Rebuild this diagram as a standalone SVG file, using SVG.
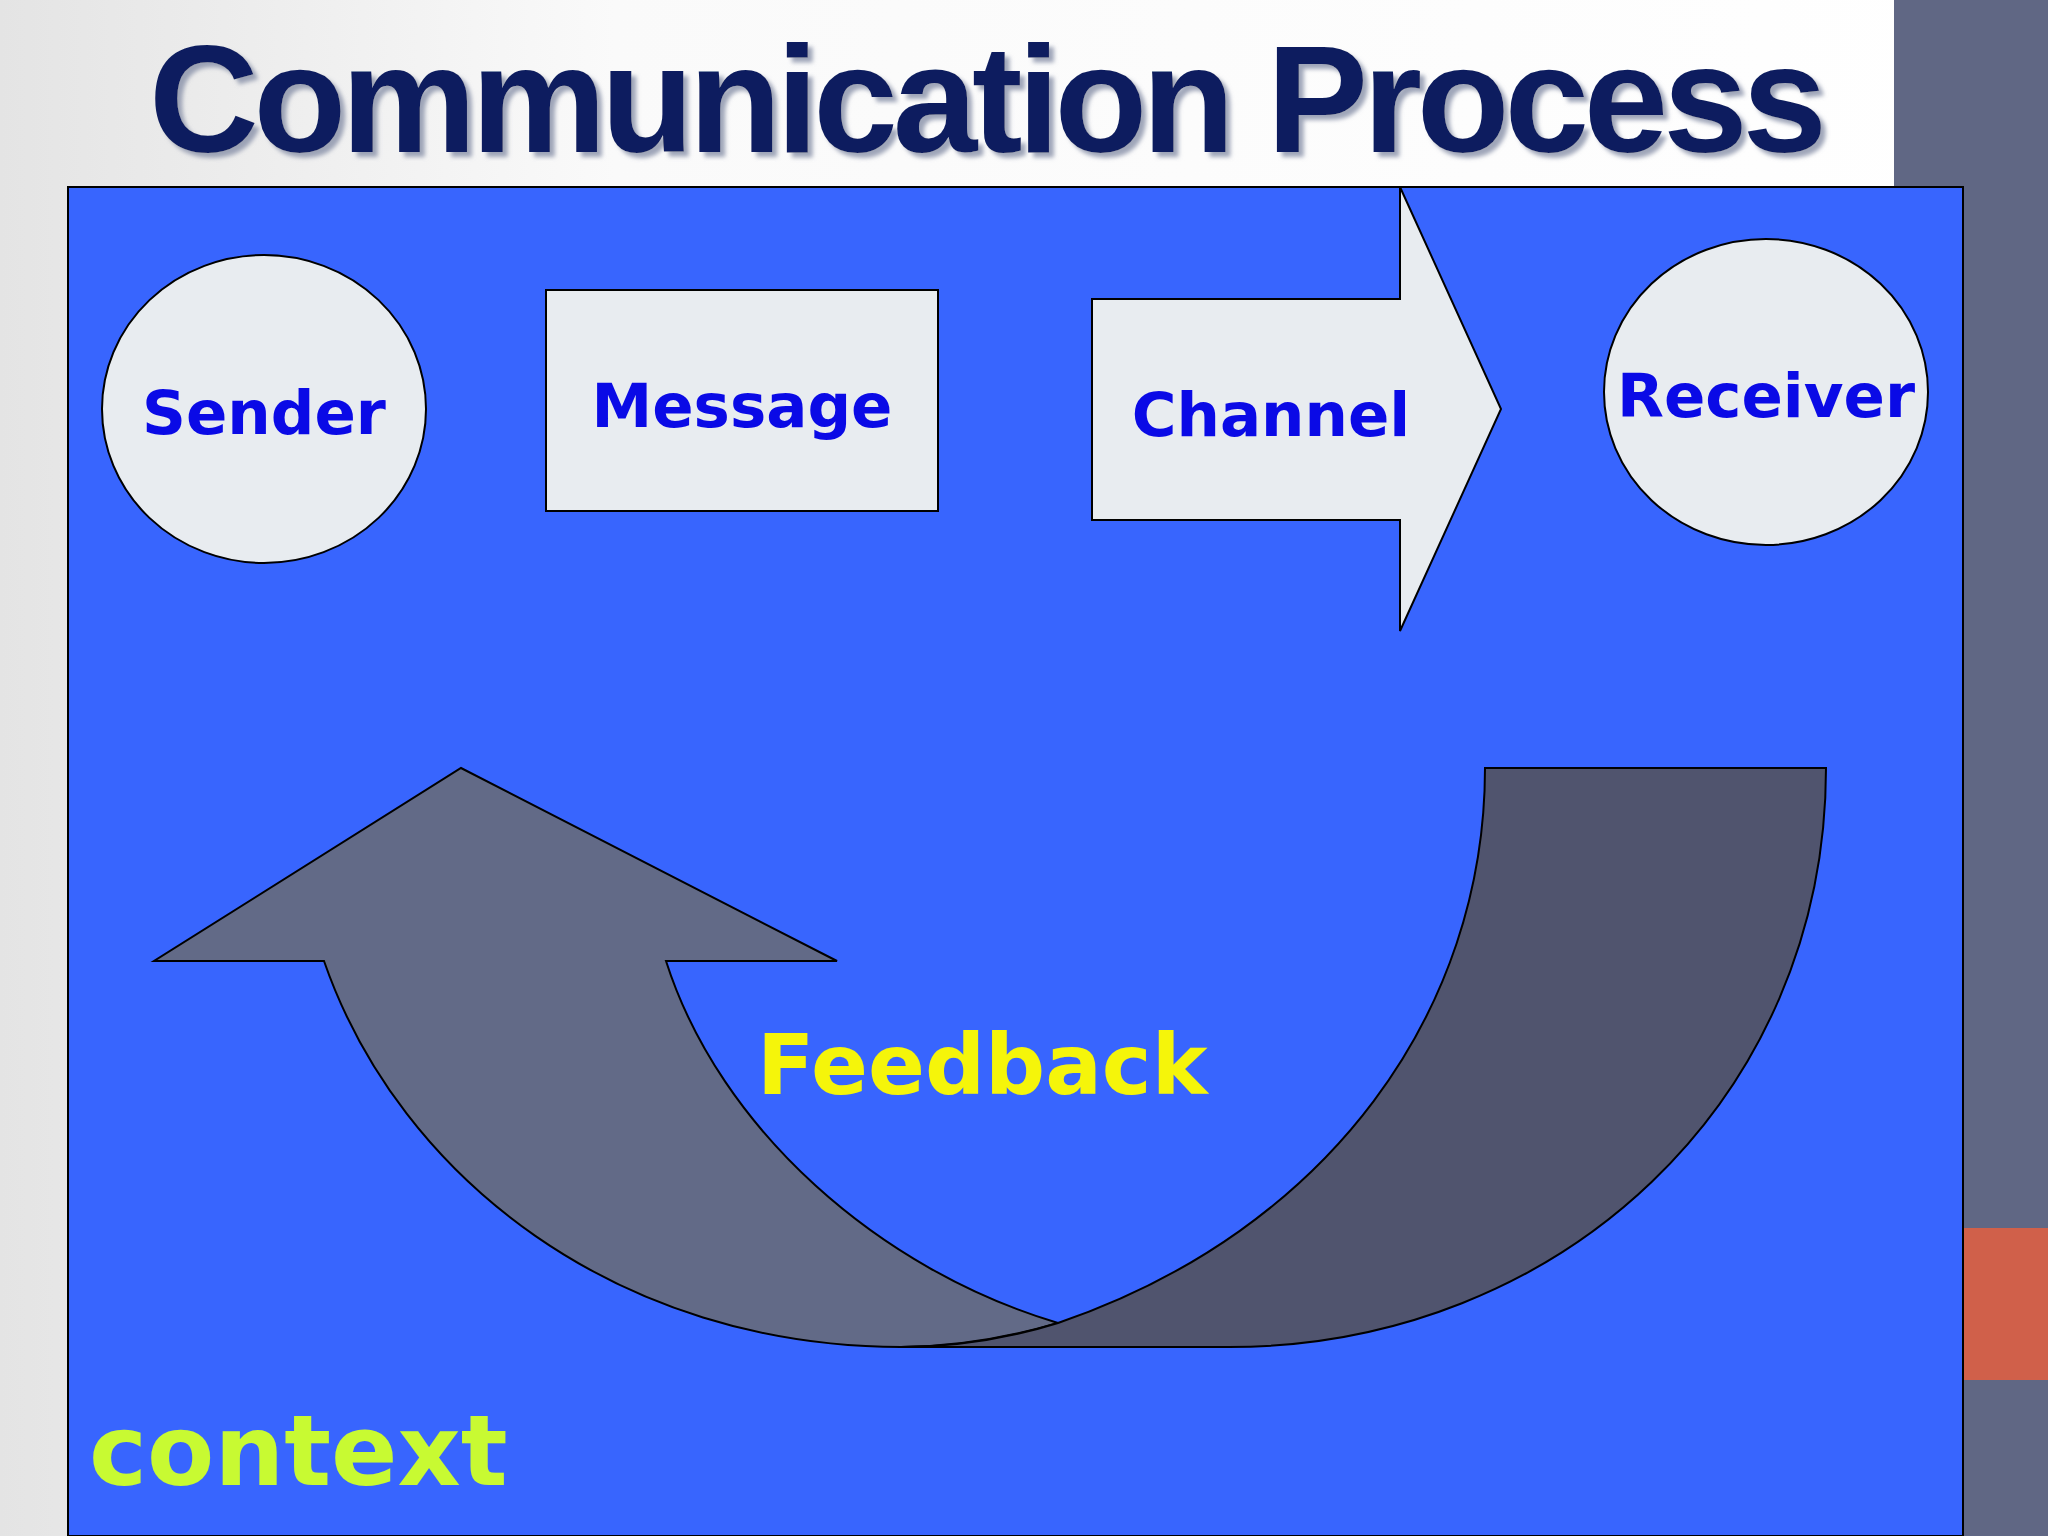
<svg xmlns="http://www.w3.org/2000/svg" width="2048" height="1536" viewBox="0 0 2048 1536">
<defs>
<linearGradient id="bg" x1="0" y1="0" x2="1" y2="0"><stop offset="0" stop-color="#e4e4e4"/><stop offset="0.3" stop-color="#fafafa"/><stop offset="1" stop-color="#ffffff"/></linearGradient>
<filter id="sh" x="-5%" y="-20%" width="110%" height="140%"><feDropShadow dx="5" dy="5" stdDeviation="2" flood-color="#8890a8" flood-opacity="0.8"/></filter>
<style>
.n{fill:#e8ecf0;stroke:#000;stroke-width:2}
.t{font-family:"DejaVu Sans",Verdana,sans-serif;font-weight:bold;fill:#0a0ae6;text-anchor:middle;font-size:61px}
.fb{stroke:#000;stroke-width:2}
</style>
</defs>
<rect width="2048" height="1536" fill="url(#bg)"/>
<rect x="1894" y="0" width="154" height="1536" fill="#606784"/>
<rect x="1963" y="1228" width="85" height="152" fill="#d0604a"/>
<text x="988" y="152" font-family="Liberation Sans,Arial,sans-serif" font-weight="bold" font-size="152" fill="#0d1f5e" text-anchor="middle" textLength="1678" filter="url(#sh)">Communication Process</text>
<rect x="68" y="187" width="1895" height="1349" fill="#3865fe" stroke="#000" stroke-width="2"/>
<g id="sender"><ellipse class="n" cx="264" cy="409" rx="162" ry="154"/><text class="t" x="264" y="434">Sender</text></g>
<g id="message"><rect class="n" x="546" y="290" width="392" height="221"/><text class="t" x="742" y="427">Message</text></g>
<g id="channel"><path class="n" d="M1092,299 L1400,299 L1400,187 L1501,409 L1400,631 L1400,520 L1092,520 Z"/><text class="t" x="1271" y="436">Channel</text></g>
<g id="receiver"><ellipse class="n" cx="1766" cy="392" rx="162" ry="153"/><text class="t" x="1766" y="417">Receiver</text></g>
<g id="connectors">
<path class="fb" fill="#626a87" d="M461,768 L837,961 L666,961 C720,1130 880,1270 1058,1323 C1000,1340 950,1347 901,1347 C620,1347 400,1180 324,961 L154,961 Z"/>
<path class="fb" fill="#50546e" d="M1485,768 L1826,768 C1826,1100 1560,1347 1229,1347 L901,1347 C960,1347 1010,1338 1058,1323 C1330,1230 1485,1010 1485,768 Z"/>
</g>
<text x="757" y="1094" font-family="DejaVu Sans,Verdana,sans-serif" font-weight="bold" font-size="84" fill="#f5f50a">Feedback</text>
<text x="89" y="1485" font-family="DejaVu Sans,Verdana,sans-serif" font-weight="bold" font-size="98" fill="#c8fa32">context</text>
</svg>
